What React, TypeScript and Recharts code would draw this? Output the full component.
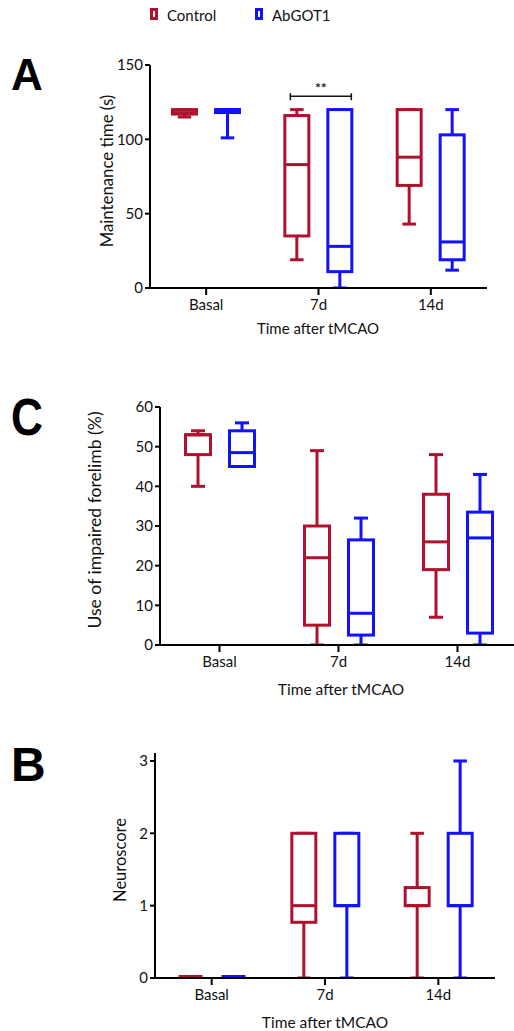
import React from 'react';
import { ComposedChart, Bar, XAxis, YAxis } from 'recharts';

// stats per group are [min, q1, median, q3, max]
const categories = ['Basal', '7d', '14d'];

const controlA = [[115, 117, 118, 120, 120], [19, 35, 83, 116, 120], [43, 69, 88, 120, 120]];
const abgotA = [[101, 118, 120, 120, 120], [0, 11, 28, 120, 120], [12, 19, 31, 103, 120]];
const sigA = [false, true, false];
const sigLevelA = 129;

const controlC = [[40, 48, 53, 53, 54], [0, 5, 22, 30, 49], [7, 19, 26, 38, 48]];
const abgotC = [[45, 45, 48.5, 54, 56], [0, 2.5, 8, 26.5, 32], [0, 3, 27, 33.5, 43]];

const controlB = [[0, 0, 0, 0, 0], [0, 0.77, 1, 2, 2], [0, 1, 1, 1.25, 2]];
const abgotB = [[0, 0, 0, 0, 0], [0, 1, 1, 2, 2], [0, 1, 1, 2, 3]];

const ticksA = [0, 50, 100, 150];
const ticksC = [0, 10, 20, 30, 40, 50, 60];
const ticksB = [0, 1, 2, 3];

const RED = '#b0112c';
const BLUE = '#1212ff';
const FONT = 'Lato, "Open Sans", sans-serif';
const GAP = 16;

const build = (ctrl: number[][], ab: number[][], sig?: boolean[]) =>
  categories.map((c, i) => ({
    cat: c,
    ctrl: [ctrl[i][0], ctrl[i][4]],
    ab: [ab[i][0], ab[i][4]],
    ctrlStats: ctrl[i],
    abStats: ab[i],
    sig: sig ? sig[i] : false,
  }));

const makeBox = (color: string, statKey: string, withSig: boolean) => (props: any) => {
  const { x, y, width, height, payload } = props;
  if (!payload) return <g />;
  const [mn, q1, md, q3, mx] = payload[statKey] as number[];
  // flat groups (all zero) sit on top of the axis line
  const lift = mx === mn ? -1.5 : 0;
  const py = (v: number) => (mx === mn ? y : y + ((mx - v) / (mx - mn)) * height) + lift;
  const cx = x + width / 2;
  const cap = width * 0.5;
  const sw = 3;
  const bx1 = x + 7;
  const bx2 = x + 2 * width + GAP - 2;
  return (
    <g>
      <line x1={cx} x2={cx} y1={py(mx)} y2={py(q3)} stroke={color} strokeWidth={sw} />
      <line x1={cx} x2={cx} y1={py(q1)} y2={py(mn)} stroke={color} strokeWidth={sw} />
      <line x1={cx - cap / 2} x2={cx + cap / 2} y1={py(mx)} y2={py(mx)} stroke={color} strokeWidth={sw} />
      <line x1={cx - cap / 2} x2={cx + cap / 2} y1={py(mn)} y2={py(mn)} stroke={color} strokeWidth={sw} />
      <rect x={x + sw / 2} y={py(q3)} width={width - sw} height={py(q1) - py(q3)} fill="#fff" stroke={color} strokeWidth={sw} />
      <line x1={x + sw / 2} x2={x + width - sw / 2} y1={py(md)} y2={py(md)} stroke={color} strokeWidth={sw} />
      {withSig && payload.sig && (
        <g>
          <line x1={bx1} x2={bx2} y1={py(sigLevelA)} y2={py(sigLevelA)} stroke="#111" strokeWidth={1.5} />
          <line x1={bx1} x2={bx1} y1={py(sigLevelA) - 3} y2={py(sigLevelA) + 4} stroke="#111" strokeWidth={1.5} />
          <line x1={bx2} x2={bx2} y1={py(sigLevelA) - 3} y2={py(sigLevelA) + 4} stroke="#111" strokeWidth={1.5} />
          <text x={(bx1 + bx2) / 2} y={py(sigLevelA) - 3} textAnchor="middle" fontSize={14} fontWeight="bold" fill="#222">**</text>
        </g>
      )}
    </g>
  );
};

const axisStyle = { stroke: '#000', strokeWidth: 2 };
const tickStyle = { fill: '#111', fontSize: 15, fontFamily: FONT };

interface PanelProps {
  data: any[];
  width: number;
  height: number;
  margin: { top: number; right: number; bottom: number; left: number };
  domain: [number, number];
  ticks: number[];
  barSize: number;
  sig?: boolean;
}

const Panel = ({ data, width, height, margin, domain, ticks, barSize, sig }: PanelProps) => (
  <ComposedChart width={width} height={height} data={data} margin={margin} barGap={GAP} barSize={barSize}>
    <XAxis
      dataKey="cat"
      axisLine={axisStyle}
      tickLine={axisStyle}
      tick={tickStyle}
      tickSize={7}
      tickMargin={4}
      height={30}
    />
    <YAxis
      type="number"
      domain={domain}
      ticks={ticks}
      axisLine={axisStyle}
      tickLine={axisStyle}
      tick={tickStyle}
      tickSize={5}
      tickMargin={2}
      width={40}
      allowDataOverflow
    />
    <Bar dataKey="ctrl" fill="none" isAnimationActive={false} shape={makeBox(RED, 'ctrlStats', !!sig)} />
    <Bar dataKey="ab" fill="none" isAnimationActive={false} shape={makeBox(BLUE, 'abStats', false)} />
  </ComposedChart>
);

const dataA = build(controlA, abgotA, sigA);
const dataC = build(controlC, abgotC);
const dataB = build(controlB, abgotB);

const App = () => (
  <div style={{ position: 'absolute', left: 0, top: 0, width: 514, height: 1031, overflow: 'hidden', background: '#fff', fontFamily: FONT }}>
    <div style={{ position: 'absolute', left: 0, top: 0 }}>
      <Panel data={dataA} width={514} height={340} margin={{ top: 65, right: 27, bottom: 22, left: 110 }} domain={[0, 150]} ticks={ticksA} barSize={27} sig />
    </div>
    <div style={{ position: 'absolute', left: 0, top: 340 }}>
      <Panel data={dataC} width={520} height={360} margin={{ top: 67, right: 3, bottom: 25, left: 120 }} domain={[0, 60]} ticks={ticksC} barSize={28} />
    </div>
    <div style={{ position: 'absolute', left: 0, top: 700 }}>
      <Panel data={dataB} width={514} height={331} margin={{ top: 53, right: 19, bottom: 23, left: 115 }} domain={[0, 3.11]} ticks={ticksB} barSize={27} />
    </div>
    <svg width={514} height={1031} style={{ position: 'absolute', left: 0, top: 0, pointerEvents: 'none' }}>
      {/* legend */}
      <rect x={151.5} y={9.5} width={5} height={9} fill="#fff" stroke={RED} strokeWidth={3} />
      <text x={167} y={21} fontSize={15} fill="#111">Control</text>
      <rect x={256.5} y={9.5} width={5} height={9} fill="#fff" stroke={BLUE} strokeWidth={3} />
      <text x={272} y={21} fontSize={15} fill="#111">AbGOT1</text>

      {/* panel letters */}
      <text x={11} y={90} fontSize={44} fontWeight="bold" fontFamily="Liberation Sans, Arial, sans-serif" fill="#000">A</text>
      <text x={11} y={435} fontSize={52} fontWeight="bold" fontFamily="Liberation Sans, Arial, sans-serif" fill="#000" transform="translate(11,0) scale(0.85,1) translate(-11,0)">C</text>
      <text x={11} y={781} fontSize={48} fontWeight="bold" fontFamily="Liberation Sans, Arial, sans-serif" fill="#000">B</text>

      {/* axis titles */}
      <text x={318} y={334} fontSize={15} textAnchor="middle" fill="#111">Time after tMCAO</text>
      <text x={341} y={695} fontSize={15.5} textAnchor="middle" fill="#111">Time after tMCAO</text>
      <text x={325} y={1028} fontSize={15.5} textAnchor="middle" fill="#111">Time after tMCAO</text>
      <text transform="translate(106,171) rotate(-90)" fontSize={16.8} textAnchor="middle" dominantBaseline="central" fill="#111">Maintenance time (s)</text>
      <text transform="translate(94,520) rotate(-90)" fontSize={17.6} textAnchor="middle" dominantBaseline="central" fill="#111">Use of impaired forelimb (%)</text>
      <text transform="translate(120,860) rotate(-90)" fontSize={16.5} textAnchor="middle" dominantBaseline="central" fill="#111">Neuroscore</text>
    </svg>
  </div>
);

export default App;
